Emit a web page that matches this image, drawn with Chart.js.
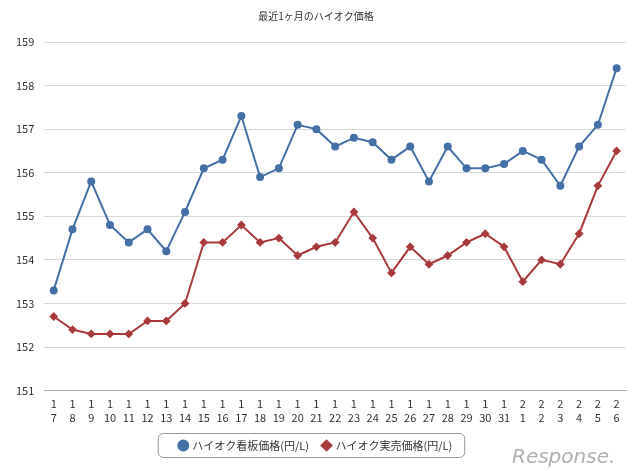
<!DOCTYPE html>
<html><head><meta charset="utf-8">
<script src="https://cdn.jsdelivr.net/npm/chart.js@4"></script>
<style>body{margin:0;background:#fff}#w{width:640px;height:471px}</style>
</head><body><div id="w"><canvas id="c"></canvas></div>
<script>
const months=["1","1","1","1","1","1","1","1","1","1","1","1","1","1","1","1","1","1","1","1","1","1","1","1","1","2","2","2","2","2","2"];
const days=["7","8","9","10","11","12","13","14","15","16","17","18","19","20","21","22","23","24","25","26","27","28","29","30","31","1","2","3","4","5","6"];
const signPrice=[153.3,154.7,155.8,154.8,154.4,154.7,154.2,155.1,156.1,156.3,157.3,155.9,156.1,157.1,157.0,156.6,156.8,156.7,156.3,156.6,155.8,156.6,156.1,156.1,156.2,156.5,156.3,155.7,156.6,157.1,158.4];
const actualPrice=[152.7,152.4,152.3,152.3,152.3,152.6,152.6,153.0,154.4,154.4,154.8,154.4,154.5,154.1,154.3,154.4,155.1,154.5,153.7,154.3,153.9,154.1,154.4,154.6,154.3,153.5,154.0,153.9,154.6,155.7,156.5];
const labels=months.map((m,i)=>[m,days[i]]);
const font="'Noto Sans CJK JP', sans-serif";
const legendBox={id:'lb',afterDraw(c){const l=c.legend,x=c.ctx;const h=l.legendHitBoxes;
const L=h[0].left-22,R=h[h.length-1].left+h[h.length-1].width+12,T=h[0].top-7,B=h[0].top+h[0].height+6;
x.save();x.strokeStyle='#999';x.lineWidth=1;x.beginPath();x.roundRect(L+0.5,T+0.5,R-L,B-T,5);x.stroke();
x.fillStyle='#b0b0b0';x.font="italic 20px 'DejaVu Sans'";x.fillText('Response.',512,458);x.restore();}};
new Chart(document.getElementById('c'),{type:'line',data:{labels,datasets:[
{label:'ハイオク看板価格(円/L)',data:signPrice,borderColor:'#4470a6',backgroundColor:'#4470a6',pointStyle:'circle',pointRadius:3,borderWidth:2},
{label:'ハイオク実売価格(円/L)',data:actualPrice,borderColor:'#a83a3c',backgroundColor:'#a83a3c',pointStyle:'rectRot',pointRadius:3,borderWidth:2}]},
options:{responsive:true,maintainAspectRatio:false,animation:false,layout:{padding:{left:6,right:14,top:0,bottom:10}},
plugins:{title:{display:true,text:'最近1ヶ月のハイオク価格',font:{family:font,size:10,weight:'normal'},color:'#333',padding:{top:10,bottom:20}},
legend:{position:'bottom',align:'center',labels:{usePointStyle:true,boxWidth:7,boxHeight:7,padding:14,font:{family:font,size:11},color:'#333',
generateLabels(c){return Chart.defaults.plugins.legend.labels.generateLabels(c).map(o=>{o.pointStyle=c.data.datasets[o.datasetIndex].pointStyle;return o;});}}}},
scales:{x:{offset:true,grid:{display:false,drawTicks:true,tickLength:5,color:'#aab'},border:{color:'#aab'},ticks:{autoSkip:false,maxRotation:0,font:{family:font,size:11},color:'#333',padding:2}},
y:{min:151,max:159,ticks:{stepSize:1,font:{family:font,size:11},color:'#333',padding:10},grid:{color:'#d8d8d8',drawTicks:false},border:{display:false}}}},
plugins:[legendBox]});
</script></body></html>
